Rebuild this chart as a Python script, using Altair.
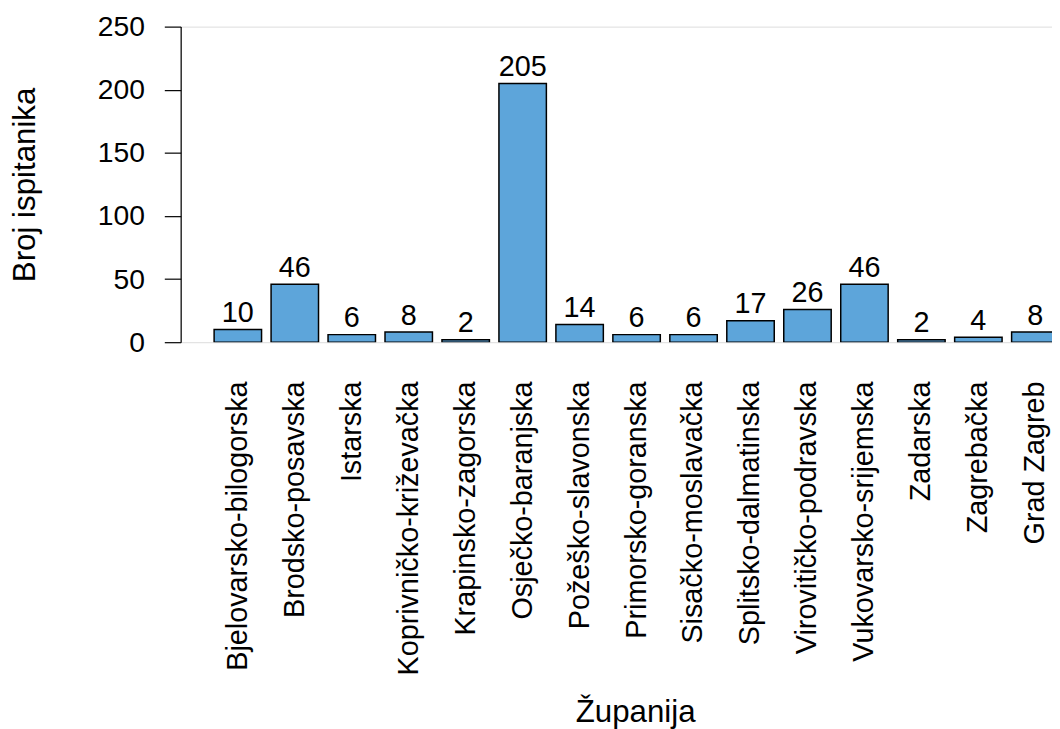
import altair as alt
import pandas as pd

counties = [
    "Bjelovarsko-bilogorska", "Brodsko-posavska", "Istarska", "Koprivničko-križevačka",
    "Krapinsko-zagorska", "Osječko-baranjska", "Požeško-slavonska", "Primorsko-goranska",
    "Sisačko-moslavačka", "Splitsko-dalmatinska", "Virovitičko-podravska",
    "Vukovarsko-srijemska", "Zadarska", "Zagrebačka", "Grad Zagreb",
]
counts = [10, 46, 6, 8, 2, 205, 14, 6, 6, 17, 26, 46, 2, 4, 8]
y_ticks = [0, 50, 100, 150, 200, 250]

df = pd.DataFrame({"zupanija": counties, "broj": counts})

FONT = "Liberation Sans"

xscale = alt.Scale(domain=counties, range=[0, 918.8], paddingInner=0.1672,
                   paddingOuter=0.587, round=False)
yscale = alt.Scale(domain=[0, 250], nice=False, zero=True)

base = alt.Chart(df)

bars = base.mark_bar(color="#5DA5DA", stroke="black", strokeWidth=1.5, clip=True).encode(
    x=alt.X("zupanija:N", scale=xscale, sort=counties,
            axis=alt.Axis(title="Županija", labelAngle=-90, labelAlign="right", labelBaseline="middle",
                          domain=False, ticks=False, labelPadding=39, labelFontSize=29,
                          labelFont=FONT, labelColor="black", labelLimit=0,
                          titleFont=FONT, titleFontSize=31.5, titleFontWeight="normal",
                          titleColor="black", titleX=458, titleY=382, titleAnchor="start",
                          titleAlign="center", titleBaseline="alphabetic", grid=False)),
    y=alt.Y("broj:Q", scale=yscale,
            axis=alt.Axis(title="Broj ispitanika", values=y_ticks, tickSize=16.5, tickWidth=1.2,
                          tickColor="black", domainColor="black", domainWidth=1.2,
                          labelPadding=20, labelFontSize=28.5, labelFont=FONT, labelColor="black",
                          titleFont=FONT, titleFontSize=31.5, titleFontWeight="normal",
                          titleColor="black", titleX=-147.5, titleY=159, titleAngle=-90,
                          titleAlign="center", titleBaseline="alphabetic", grid=False)),
)

labels = base.mark_text(baseline="alphabetic", align="center", dy=-7.5, fontSize=29,
                        font=FONT, color="black").encode(
    x=alt.X("zupanija:N", scale=xscale, sort=counties),
    y=alt.Y("broj:Q", scale=yscale),
    text=alt.Text("broj:Q"),
)

chart = (bars + labels).properties(
    width=878, height=318,
    autosize=alt.AutoSizeParams(type="none"),
    padding={"left": 174, "top": 16, "right": 0, "bottom": 387},
).configure_view(stroke=None).configure(background="white")

chart.save("out.html", embed_options={"renderer": "svg", "actions": False})
